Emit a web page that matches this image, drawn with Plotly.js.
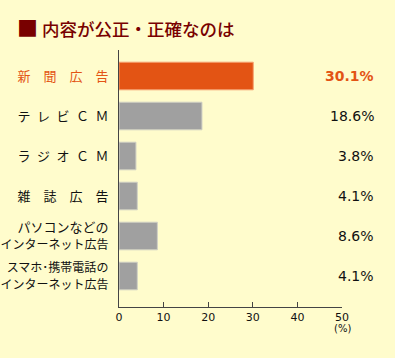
<!DOCTYPE html>
<html><head><meta charset="utf-8">
<script src="https://cdn.plot.ly/plotly-3.0.1.min.js"></script>
<style>html,body{margin:0;padding:0;background:#fffccc;}</style>
</head><body>
<div id="chart" style="width:395px;height:358px;"></div>
<script>
const categories = ["新聞広告","テレビCM","ラジオCM","雑誌広告","パソコンなどのインターネット広告","スマホ・携帯電話のインターネット広告"];
const tickLabels = [
  "<span style='color:#e35414'>新　聞　広　告</span>",
  "テ\u2002レ\u2002ビ\u2002Ｃ\u2002Ｍ",
  "ラ\u2002ジ\u2002オ\u2002Ｃ\u2002Ｍ",
  "雑　誌　広　告",
  "<span style='font-size:13px'>パソコンなどの</span><br><span style='font-size:12px'>インターネット広告</span>",
  "<span style='font-size:12px'>スマホ･携帯電話の</span><br><span style='font-size:12px'>インターネット広告</span>"
];
const values = [30.1, 18.6, 3.8, 4.1, 8.6, 4.1];
const valueLabels = ["30.1%","18.6%","3.8%","4.1%","8.6%","4.1%"];
const xTicks = [0,10,20,30,40,50];

const fillColors = values.map((v,i)=> i===0 ? "#e35414" : "#a0a0a0");
const lineColors = values.map((v,i)=> i===0 ? "#f5a070" : "#d0d0c4");

const trace = {
  type: "bar", orientation: "h",
  x: values, y: categories,
  width: 0.69,
  marker: {color: fillColors, line: {color: lineColors, width: 1}},
  hoverinfo: "none"
};

const annotations = categories.map((c,i)=>({
  x: (376-119)/223, xref: "paper", xanchor: "right",
  y: c, yref: "y",
  text: valueLabels[i],
  showarrow: false,
  font: {family: "DejaVu Sans, sans-serif", size: 14, color: i===0 ? "#e35414" : "#111",
         weight: i===0 ? "bold" : "normal"}
}));
annotations.push({
  x: 50, xref: "x", y: 0, yref: "paper", yanchor: "top", yshift: -14,
  text: "(%)", showarrow: false,
  font: {family: "DejaVu Sans, sans-serif", size: 10, color: "#111"}
});

const layout = {
  width: 395, height: 358,
  paper_bgcolor: "#fffccc", plot_bgcolor: "#fffccc",
  margin: {l: 119, r: 53, t: 50, b: 51},
  showlegend: false,
  title: {
    text: "<span style='font-size:21px'>■</span> 内容が公正・正確なのは",
    x: 17/395, xanchor: "left", xref: "container",
    y: 1 - 30/358, yanchor: "middle", yref: "container",
    font: {family: "Noto Sans CJK JP, sans-serif", size: 17.5, color: "#780000", weight: 500}
  },
  xaxis: {
    range: [0, 50], showgrid: false, zeroline: false,
    tickvals: xTicks, ticktext: xTicks.map(String),
    ticks: "inside", ticklen: 5, tickcolor: "#444", tickwidth: 1,
    showline: true, linecolor: "#444", linewidth: 1,
    tickfont: {family: "DejaVu Sans, sans-serif", size: 11, color: "#111"},
    fixedrange: true
  },
  yaxis: {
    type: "category", range: [5.775, -0.65],
    tickvals: categories, ticktext: tickLabels,
    showgrid: false, zeroline: false,
    showline: true, linecolor: "#444", linewidth: 1,
    ticks: "", ticklabelstandoff: 7,
    tickfont: {family: "Noto Sans CJK JP, sans-serif", size: 13, color: "#111"},
    fixedrange: true
  },
  annotations: annotations
};

Plotly.newPlot("chart", [trace], layout, {displayModeBar: false, staticPlot: true});
</script>
</body></html>
